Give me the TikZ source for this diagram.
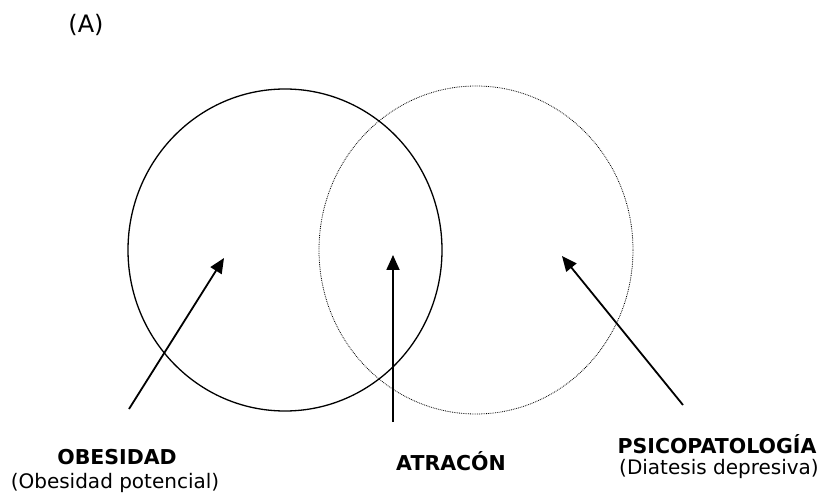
\documentclass[tikz,border=0pt]{standalone}
\usepackage{fontspec}
\setmainfont{DejaVu Sans}
\usetikzlibrary{arrows.meta}
\begin{document}
\begin{tikzpicture}[x=1pt,y=-1pt,
  arr/.style={line width=1.8pt,-{Triangle[length=15pt,width=13pt]}},
  bold/.style={font=\fontsize{20.5}{23}\selectfont\bfseries, inner sep=0pt},
  sub/.style={font=\fontsize{20}{23}\selectfont, inner sep=0pt}]
\useasboundingbox (0,0) rectangle (823,500);
\node[font=\fontsize{24}{27}\selectfont, inner sep=0pt] (lab) at (86,25) {(A)};
\draw[line width=1.3pt] (285,250) ellipse [x radius=157, y radius=161];
\draw[densely dotted, line width=0.8pt] (476,250) ellipse [x radius=157, y radius=164];
\coordinate (t1) at (224,258);
\coordinate (t2) at (393,255);
\coordinate (t3) at (562,256);
\coordinate (s1) at (129,409);
\coordinate (s2) at (393,422);
\coordinate (s3) at (683,405);
\draw[arr] (s1) -- (t1);
\draw[arr] (s2) -- (t2);
\draw[arr] (s3) -- (t3);
\node[bold] (ob) at (117,457) {OBESIDAD};
\node[sub] (obp) at (115,483) {(Obesidad potencial)};
\node[bold] (at) at (451,461) {ATRACÓN};
\node[bold] (ps) at (717,444) {PSICOPATOLOGÍA};
\node[sub] (psd) at (719,469) {(Diatesis depresiva)};
\end{tikzpicture}
\end{document}
